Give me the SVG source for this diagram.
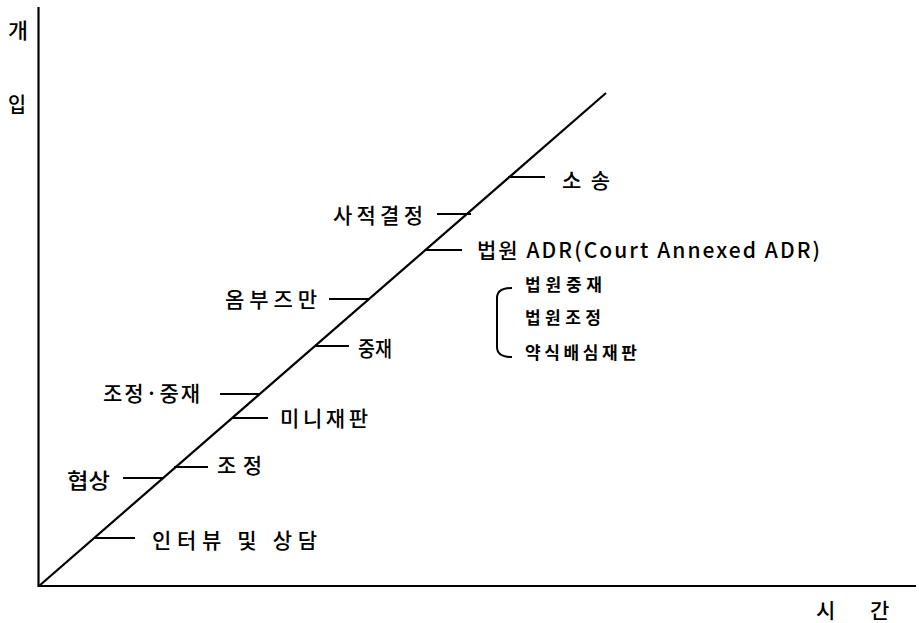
<svg xmlns="http://www.w3.org/2000/svg" width="919" height="623" viewBox="0 0 919 623">
<style>
.ax{stroke:#000;stroke-width:2.2;fill:none}
.tk{stroke:#000;stroke-width:2;fill:none}
.t{font-family:"Noto Sans CJK KR","Liberation Sans",sans-serif;font-size:21px;font-weight:500;fill:#000}
.s{font-family:"Noto Sans CJK KR","Liberation Sans",sans-serif;font-size:17px;font-weight:bold;fill:#000}
</style>
<rect width="919" height="623" fill="#fff"/>
<g id="axes">
<line class="ax" x1="38.5" y1="7" x2="38.5" y2="587"/>
<line class="ax" x1="38" y1="586" x2="916" y2="586"/>
<line class="ax" x1="39" y1="586" x2="606" y2="93" stroke-width="2.5"/>
<text class="t" x="8" y="38" font-size="18" textLength="20" lengthAdjust="spacingAndGlyphs">개</text>
<text class="t" x="8" y="112" font-size="18" textLength="18" lengthAdjust="spacingAndGlyphs">입</text>
<text class="t" x="816" y="618">시</text>
<text class="t" x="870" y="618">간</text>
</g>
<g id="connectors">
<line class="tk" x1="508" y1="177" x2="545" y2="177"/>
<line class="tk" x1="437" y1="214" x2="471" y2="214"/>
<line class="tk" x1="426" y1="250" x2="462" y2="250"/>
<line class="tk" x1="329" y1="299" x2="369" y2="299"/>
<line class="tk" x1="315" y1="346" x2="349" y2="346"/>
<line class="tk" x1="220" y1="394" x2="259" y2="394"/>
<line class="tk" x1="232" y1="418" x2="268" y2="418"/>
<line class="tk" x1="174" y1="467" x2="208" y2="467"/>
<line class="tk" x1="123" y1="478" x2="163" y2="478"/>
<line class="tk" x1="95" y1="538" x2="135" y2="538"/>
<path class="tk" d="M512 288 Q497 288 497 298 L497 347 Q497 357 512 357"/>
</g>
<g id="n-sosong"><text class="t" x="562" y="188" textLength="48" lengthAdjust="spacing">소송</text></g>
<g id="n-sajeok"><text class="t" x="333" y="223" textLength="90" lengthAdjust="spacing">사적결정</text></g>
<g id="n-court"><text class="t" x="477" y="258" textLength="343" lengthAdjust="spacing">법원 ADR(Court Annexed ADR)</text></g>
<g id="n-ombuds"><text class="t" x="225" y="307" textLength="92" lengthAdjust="spacing">옴부즈만</text></g>
<g id="n-jungjae"><text class="t" x="358" y="356" textLength="34" lengthAdjust="spacingAndGlyphs">중재</text></g>
<g id="n-jojung-jungjae"><text class="t" x="103" y="401" textLength="97" lengthAdjust="spacing">조정·중재</text></g>
<g id="n-mini"><text class="t" x="280" y="426" textLength="88" lengthAdjust="spacing">미니재판</text></g>
<g id="n-jojung"><text class="t" x="217" y="473" textLength="45" lengthAdjust="spacing">조정</text></g>
<g id="n-hyeopsang"><text class="t" x="67" y="488" textLength="43" lengthAdjust="spacingAndGlyphs">협상</text></g>
<g id="n-interview"><text class="t" x="152" y="548" textLength="165" lengthAdjust="spacing">인터뷰 및 상담</text></g>
<g id="n-court-sub">
<text class="s" x="525" y="291" textLength="77" lengthAdjust="spacing">법원중재</text>
<text class="s" x="525" y="324" textLength="76" lengthAdjust="spacing">법원조정</text>
<text class="s" x="525" y="359" textLength="112" lengthAdjust="spacing">약식배심재판</text>
</g>
</svg>
